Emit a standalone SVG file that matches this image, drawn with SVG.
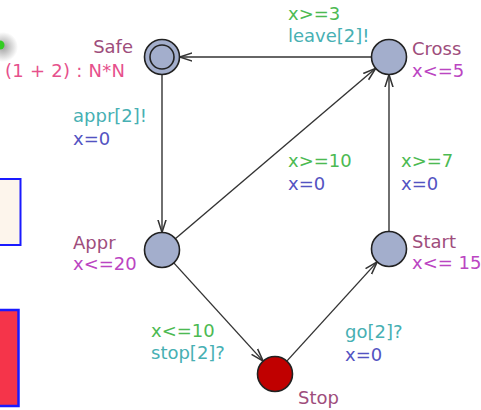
<svg xmlns="http://www.w3.org/2000/svg" width="481" height="410" viewBox="0 0 481 410">
<style>
text{font-family:"DejaVu Sans",Verdana,sans-serif;font-size:18px}
.nm{fill:#9e4d7c}
.inv{fill:#bb45c2}
.gd{fill:#4cba52}
.sy{fill:#47b0b3}
.as{fill:#5353c2}
.loc{fill:#a3aecc;stroke:#222;stroke-width:1.6}
.e{stroke:#333;stroke-width:1.4;fill:none}
</style>
<defs>
<marker id="ar" markerUnits="userSpaceOnUse" markerWidth="14" markerHeight="12" viewBox="0 0 12 10" refX="11" refY="5" orient="auto">
<path d="M0,1.5 L11,5 L0,8.5" fill="none" stroke="#333" stroke-width="1.3"/>
</marker>
<radialGradient id="sh"><stop offset="0" stop-color="#888" stop-opacity="0.8"/><stop offset="1" stop-color="#888" stop-opacity="0"/></radialGradient>
</defs>
<rect width="481" height="410" fill="#fff"/>
<g id="side">
<circle cx="3" cy="47" r="15" fill="url(#sh)"/>
<circle cx="0" cy="45" r="4.5" fill="#33cc22"/>
<rect x="-2" y="179" width="22.5" height="66" fill="#fdf5ec" stroke="#1a1aff" stroke-width="2"/>
<rect x="-2" y="310" width="20.5" height="96" fill="#f5344a" stroke="#1a1aff" stroke-width="2.5"/>
<text x="5" y="77" fill="#e6508c" textLength="120">(1 + 2) : N*N</text>
</g>
<g id="connectors">
<g id="e-safe-appr"><line class="e" x1="162" y1="74.5" x2="162" y2="232.5" marker-end="url(#ar)"/>
<text class="sy" x="73" y="122">appr[2]!</text><text class="as" x="73" y="145">x=0</text></g>
<g id="e-cross-safe"><line class="e" x1="371.5" y1="57" x2="179.5" y2="57" marker-end="url(#ar)"/>
<text class="gd" x="288" y="20">x&gt;=3</text><text class="sy" x="288" y="42">leave[2]!</text></g>
<g id="e-appr-cross"><line class="e" x1="175.3" y1="238.7" x2="375.7" y2="68.3" marker-end="url(#ar)"/>
<text class="gd" x="288" y="167">x&gt;=10</text><text class="as" x="288" y="190">x=0</text></g>
<g id="e-start-cross"><line class="e" x1="389" y1="231.5" x2="389" y2="74.5" marker-end="url(#ar)"/>
<text class="gd" x="401" y="167">x&gt;=7</text><text class="as" x="401" y="190">x=0</text></g>
<g id="e-appr-stop"><line class="e" x1="173.8" y1="262.9" x2="263.2" y2="361.1" marker-end="url(#ar)"/>
<text class="gd" x="151" y="337">x&lt;=10</text><text class="sy" x="151" y="359">stop[2]?</text></g>
<g id="e-stop-start"><line class="e" x1="286.8" y1="361.1" x2="377.2" y2="261.9" marker-end="url(#ar)"/>
<text class="sy" x="345" y="338">go[2]?</text><text class="as" x="345" y="361">x=0</text></g>
</g>
<g id="Safe"><circle class="loc" cx="162" cy="57" r="17.5"/><circle cx="162" cy="57" r="12" fill="none" stroke="#222" stroke-width="1.6"/>
<text class="nm" x="133" y="53" text-anchor="end">Safe</text></g>
<g id="Cross"><circle class="loc" cx="389" cy="57" r="17.5"/>
<text class="nm" x="412" y="55">Cross</text><text class="inv" x="412" y="77">x&lt;=5</text></g>
<g id="Appr"><circle class="loc" cx="162" cy="250" r="17.5"/>
<text class="nm" x="73" y="249">Appr</text><text class="inv" x="73" y="270">x&lt;=20</text></g>
<g id="Start"><circle class="loc" cx="389" cy="249" r="17.5"/>
<text class="nm" x="412" y="248">Start</text><text class="inv" x="412" y="269">x&lt;= 15</text></g>
<g id="Stop"><circle cx="275" cy="374" r="17.5" fill="#c00000" stroke="#222" stroke-width="1.6"/>
<text class="nm" x="298" y="404">Stop</text></g>
</svg>
